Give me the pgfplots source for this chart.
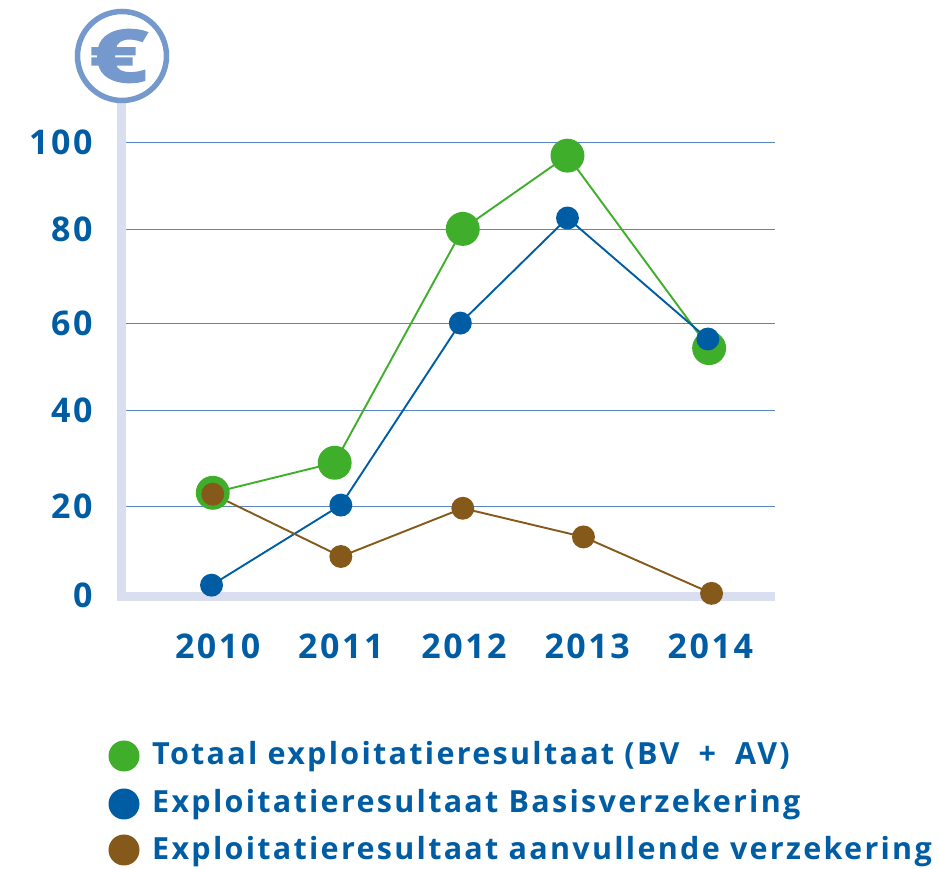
\documentclass[border=0pt]{standalone}
\usepackage{pgfplots}
\pgfplotsset{compat=1.18}
\usepackage{fontspec}
\setmainfont{Open Sans}[LetterSpace=7.5]
\newfontfamily\eurofont{Open Sans Bold}[FakeBold=3]
\definecolor{tb}{HTML}{005DA4}
\definecolor{gr}{HTML}{3FAE2A}
\definecolor{br}{HTML}{85591A}
\definecolor{ax}{HTML}{D9DEF0}
\definecolor{gl}{HTML}{5B86C5}
\definecolor{ic}{HTML}{7599CC}
\begin{document}
\begin{tikzpicture}[x=1pt,y=1pt]
\path (0,0) rectangle (939,869);
\begin{axis}[
  at={(121pt,272pt)},anchor=origin,
  scale only axis,width=654pt,height=455pt,
  xmin=2009.215,xmax=2014.525,ymin=0,ymax=100,clip=false,
  axis line style={draw=none},
  axis lines=left,
  xtick={2010,2011,2012,2013,2014},
  xticklabels={2010,2011,2012,2013,2014},
  ytick={0,19.8,41,60.2,80.7,100},
  yticklabels={\raisebox{3pt}{0},\raisebox{2pt}{20},40,60,80,100},
  ymajorgrids,
  grid style={gl,line width=0.9pt},
  major tick length=0pt,
  tick label style={font=\fontsize{34}{34}\selectfont\bfseries,text=tb},
  /pgf/number format/assume math mode=true,
  xticklabel style={yshift=-33pt},
  yticklabel style={xshift=-25pt},
]
\draw[ax,line width=9pt] (axis cs:2009.215,109) -- (axis cs:2009.215,0) -- (axis cs:2014.525,0);
\addplot[gr,line width=1.9pt,mark=*,mark size=16pt,mark options={draw=none,fill=gr}] coordinates {(2009.96,22.9)(2010.95,29.5)(2011.99,80.9)(2012.84,97)(2013.99,54.7)};
\addplot[tb,line width=1.9pt,mark=*,mark size=10.5pt,mark options={draw=none,fill=tb}] coordinates {(2009.95,2.6)(2011,20.2)(2011.97,60.2)(2012.84,83.3)(2013.98,56.7)};
\addplot[br,line width=1.9pt,mark=*,mark size=10.5pt,mark options={draw=none,fill=br}] coordinates {(2009.96,22.6)(2011,8.9)(2011.99,19.5)(2012.97,13.2)(2014.01,0.8)};
\end{axis}
\node[circle,draw=ic,fill=white,line width=5.5pt,minimum size=89pt,inner sep=0pt] at (122,813) {};
\node[inner sep=0pt,text=ic] at (118.5,813) {\scalebox{1.4}[1]{\fontsize{72}{72}\eurofont €}};
\fill[gr] (124,113) circle (15.5);
\fill[tb] (124,65) circle (15.5);
\fill[br] (124,19) circle (15.5);
\node[anchor=base west,inner sep=0pt,text=tb,font=\fontsize{30.5}{30.5}\selectfont\bfseries] at (152,104) {Totaal exploitatieresultaat (BV\hspace{9pt} + \hspace{9pt}AV)};
\node[anchor=base west,inner sep=0pt,text=tb,font=\fontsize{30.5}{30.5}\selectfont\bfseries] at (152,56) {Exploitatieresultaat Basisverzekering};
\node[anchor=base west,inner sep=0pt,text=tb,font=\fontsize{30.5}{30.5}\selectfont\bfseries] at (152,9) {Exploitatieresultaat aanvullende verzekering};
\end{tikzpicture}
\end{document}
